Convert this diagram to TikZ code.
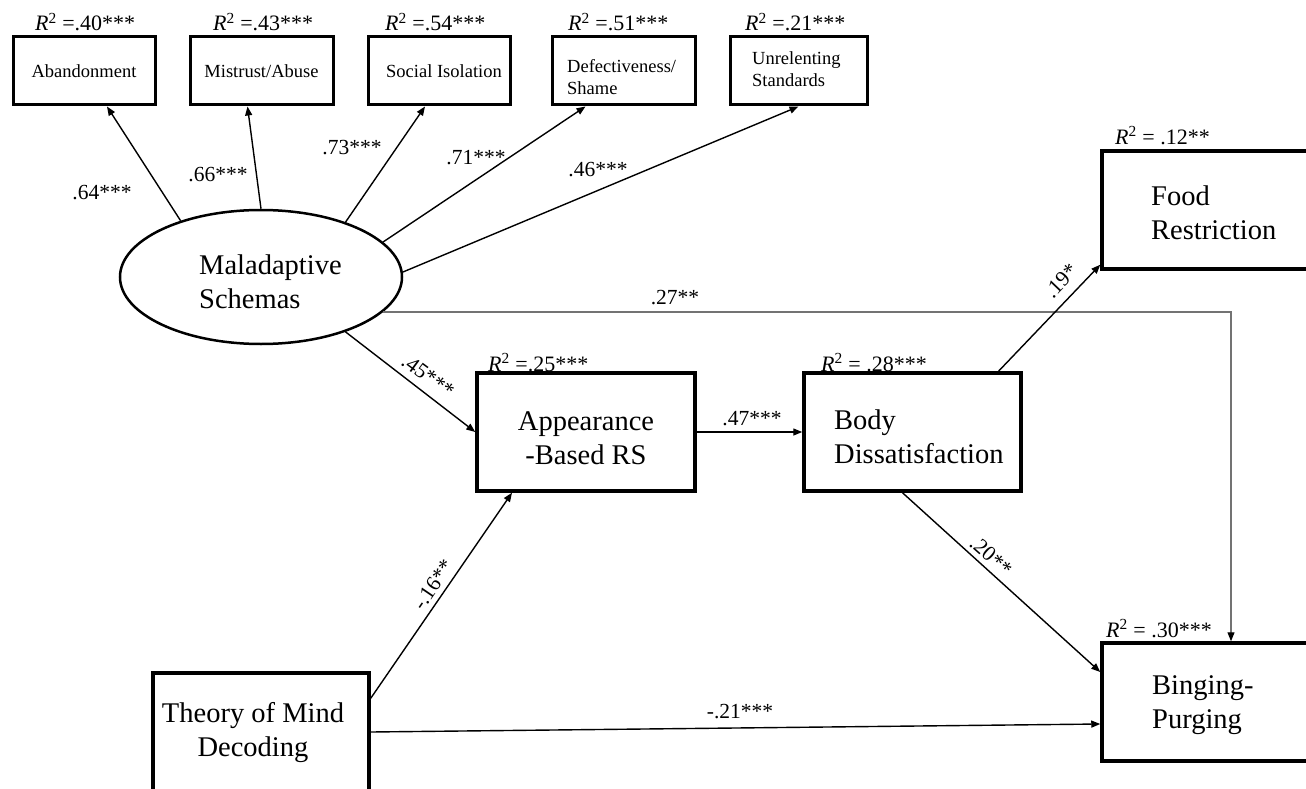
\documentclass[tikz,border=0pt]{standalone}
\usepackage{fontspec}
\setmainfont{Liberation Serif}
\usetikzlibrary{arrows.meta,shapes.geometric}
\newcommand{\Rsq}{\textit{R}\textsuperscript{2}}
\begin{document}
\begin{tikzpicture}[x=1pt,y=-1pt,
  box/.style={draw, line width=3pt, inner sep=0pt},
  sbox/.style={box, minimum width=142pt, minimum height=68pt, font=\fontsize{18.5}{22}\selectfont},
  bbox/.style={box, line width=3.5pt, minimum width=218pt, minimum height=118pt},
  arr/.style={line width=1.4pt, -{Triangle[length=9pt,width=7pt]}},
  small/.style={font=\fontsize{18.5}{22}\selectfont, inner sep=0pt},
  big/.style={font=\fontsize{28.5}{34}\selectfont, inner sep=0pt},
  rsq/.style={font=\fontsize{22}{26}\selectfont, anchor=base west, inner sep=0pt},
  coef/.style={font=\fontsize{21.5}{26}\selectfont, inner sep=1pt},
]
\useasboundingbox (0,0) rectangle (1306,789);
\clip (0,0) rectangle (1306,789);

% top boxes
\node[sbox] (ab) at (84,71) {Abandonment};
\node[sbox, minimum width=143pt] (mt) at (261.5,71) {Mistrust/Abuse};
\node[sbox] (si) at (439,71) {\hspace{10pt}Social Isolation};
\node[sbox, minimum width=143pt] (df) at (623.5,71) {};
\node[sbox, minimum width=137pt] (ur) at (798.5,71) {};
\node[small, align=left, anchor=west] (tdf) at (567,77) {Defectiveness/\\Shame};
\node[small, align=left, anchor=west] (tur) at (752,69) {Unrelenting\\Standards};

% R^2 labels
\node[rsq] (rab) at (35,31) {\Rsq{} =.40***};
\node[rsq] (rmt) at (213,31) {\Rsq{} =.43***};
\node[rsq] (rsi) at (385,31) {\Rsq{} =.54***};
\node[rsq] (rdf) at (568,31) {\Rsq{} =.51***};
\node[rsq] (rur) at (745,31) {\Rsq{} =.21***};
\node[rsq] (rapp) at (488,371) {\Rsq{} =.25***};
\node[rsq] (rbd) at (821,371) {\Rsq{} = .28***};
\node[rsq] (rfr) at (1115,144) {\Rsq{} = .12**};
\node[rsq] (rbp) at (1106,637) {\Rsq{} = .30***};

% latent variable
\node[ellipse, draw, line width=2.5pt, minimum width=282pt, minimum height=134pt, inner sep=0pt] (ms) at (261,277) {};
\node[big, align=left, anchor=west] (tms) at (199,282) {Maladaptive\\Schemas};

% big boxes
\node[bbox] (app) at (586,432) {};
\node[bbox, minimum width=217pt] (bd) at (912.5,432) {};
\node[bbox] (fr) at (1211,210) {};
\node[bbox] (bp) at (1211,702) {};
\node[bbox, minimum width=216pt] (tom) at (261,732) {};
\node[big, align=center] (tapp) at (586,438) {Appearance\\-Based RS};
\node[big, align=left, anchor=west] (tbd) at (834,437) {Body\\Dissatisfaction};
\node[big, align=left, anchor=west] (tfr) at (1151,213) {Food\\Restriction};
\node[big, align=left, anchor=west] (tbp) at (1152,705) {Binging-\\Purging};
\node[big, align=center] (ttom) at (253,733) {Theory of Mind\\Decoding};

% connectors
\draw[arr] (ms.145) -- ([xshift=23pt]ab.south);
\draw[arr] (ms.90) -- ([xshift=-14pt]mt.south);
\draw[arr] (ms.33) -- ([xshift=-14pt]si.south);
\draw[arr] (ms.16) -- ([xshift=-38pt]df.south);
\draw[arr] (ms.2) -- (ur.south);
\draw[line width=1.1pt, draw=black!55, -{Triangle[length=9pt,width=7pt,color=black]}] (ms.-16) -| ([xshift=20pt]bp.north);
\draw[arr] (ms.-33) -- (app.west);
\draw[arr] (app.east) -- (bd.west);
\draw[arr] ([xshift=86pt]bd.north) -- ([yshift=6pt]fr.south west);
\draw[arr] ([xshift=-10pt]bd.south) -- ([yshift=30pt]bp.west);
\draw[arr] ([yshift=-27pt]tom.north east) -- ([xshift=-74pt]app.south);
\draw[arr] (tom.east) -- ([yshift=-22pt]bp.west);

% coefficients
\node[coef] (c64) at (102,193) {.64***};
\node[coef] (c66) at (218,175) {.66***};
\node[coef] (c73) at (352,148) {.73***};
\node[coef] (c71) at (476,158) {.71***};
\node[coef] (c46) at (598,170) {.46***};
\node[coef, rotate=-36.4] (c45) at (428,376) {.45***};
\node[coef] (c27) at (675,298) {.27**};
\node[coef] (c47) at (752,419) {.47***};
\node[coef, rotate=46.4] (c19) at (1061,281) {.19*};
\node[coef, rotate=-41.6] (c20) at (991,556) {.20**};
\node[coef, rotate=55.6] (c16) at (433,585) {-.16**};
\node[coef] (c21) at (740,712) {-.21***};
\end{tikzpicture}
\end{document}
